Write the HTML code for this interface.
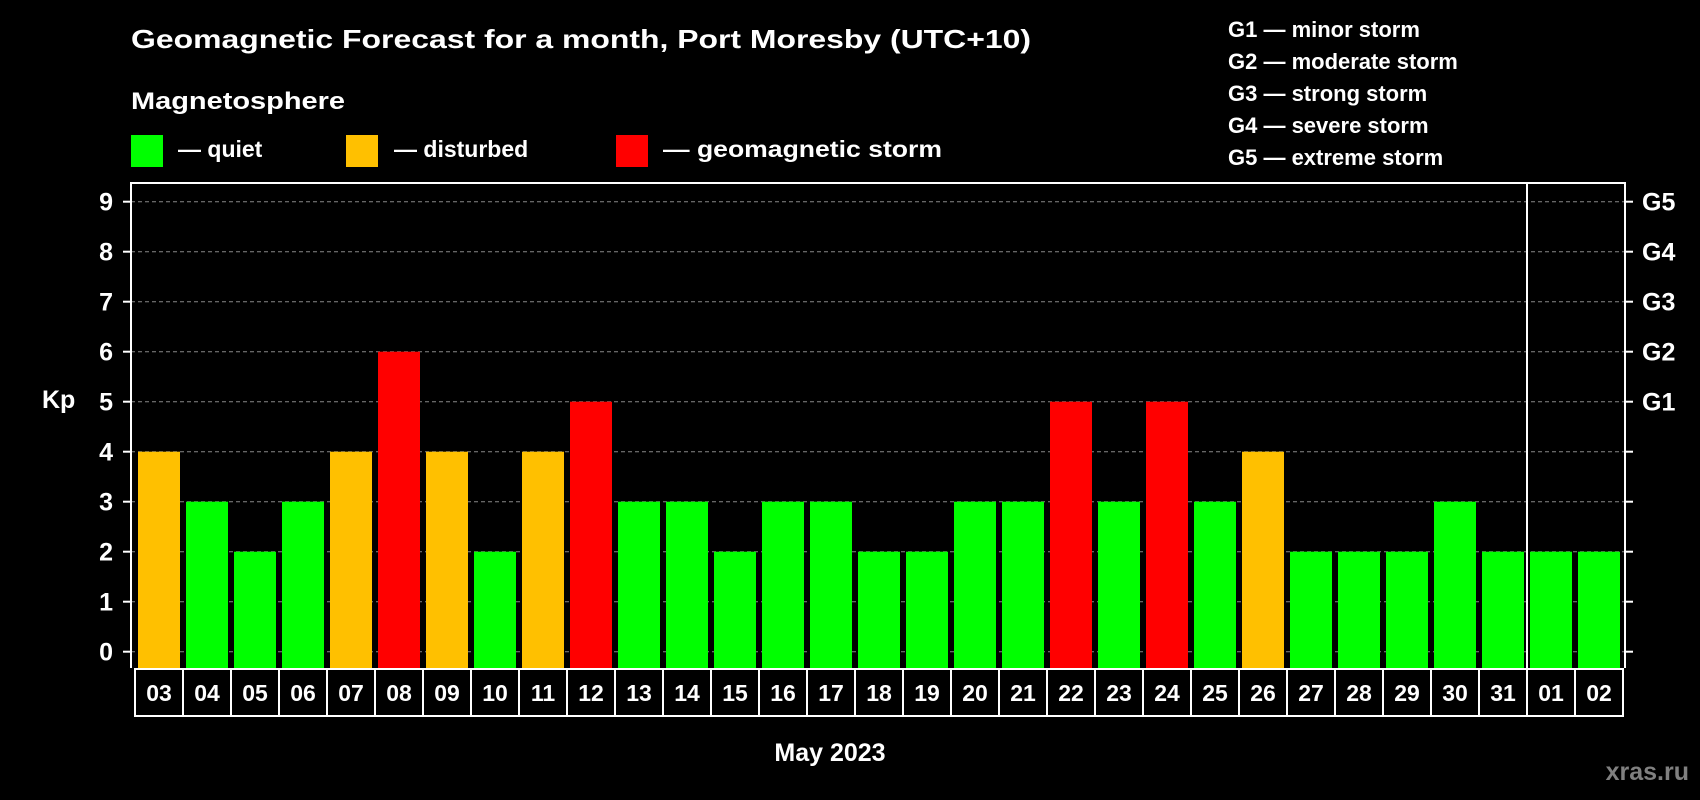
<!DOCTYPE html>
<html><head><meta charset="utf-8"><style>
html,body{margin:0;padding:0;background:#000;}
svg{display:block;font-family:"Liberation Sans",Arial,sans-serif;font-weight:bold;}
</style></head><body>
<svg id="chart" width="1700" height="800" viewBox="0 0 1700 800" xmlns="http://www.w3.org/2000/svg">
<rect width="1700" height="800" fill="#000"/>
<text x="131" y="48" fill="#fff" font-size="26" textLength="900" lengthAdjust="spacingAndGlyphs">Geomagnetic Forecast for a month, Port Moresby (UTC+10)</text>
<text x="131" y="109" fill="#fff" font-size="24" textLength="214" lengthAdjust="spacingAndGlyphs">Magnetosphere</text>
<g><rect x="131" y="135" width="32" height="32" fill="#00ff00"/><text x="178" y="157" fill="#fff" font-size="23">— quiet</text></g>
<g><rect x="346" y="135" width="32" height="32" fill="#ffc000"/><text x="394" y="157" fill="#fff" font-size="23">— disturbed</text></g>
<g><rect x="616" y="135" width="32" height="32" fill="#ff0000"/><text x="663" y="157" fill="#fff" font-size="23" textLength="279" lengthAdjust="spacingAndGlyphs">— geomagnetic storm</text></g>
<g fill="#fff" font-size="22">
<text x="1228" y="37">G1 — minor storm</text>
<text x="1228" y="69">G2 — moderate storm</text>
<text x="1228" y="101">G3 — strong storm</text>
<text x="1228" y="133">G4 — severe storm</text>
<text x="1228" y="165">G5 — extreme storm</text>
</g>
<g id="grid"></g><g id="bars"></g><g id="axes"></g>
<text x="42" y="408" fill="#fff" font-size="25">Kp</text>
<text x="830" y="761" fill="#fff" font-size="25" text-anchor="middle">May 2023</text>
<text x="1689" y="780" fill="#808080" font-size="25" text-anchor="end">xras.ru</text>
</svg>
<script>
const days = ["03","04","05","06","07","08","09","10","11","12","13","14","15","16","17","18","19","20","21","22","23","24","25","26","27","28","29","30","31","01","02"];
const kp = [4,3,2,3,4,6,4,2,4,5,3,3,2,3,3,2,2,3,3,5,3,5,3,4,2,2,2,3,2,2,2];
const yTicks = [0,1,2,3,4,5,6,7,8,9];
const gLabels = ["","","","","","G1","G2","G3","G4","G5"];
const NS="http://www.w3.org/2000/svg";
const L=131,R=1625,T=183,B=668,pitch=48,x0=135;
function y(k){return 651.7-50*k;}
function xb(i){return x0+i*pitch;}
function mk(t,a,p){const e=document.createElementNS(NS,t);for(const k in a)e.setAttribute(k,a[k]);p.appendChild(e);return e;}
const grid=document.getElementById('grid'),bars=document.getElementById('bars'),axes=document.getElementById('axes');
yTicks.forEach((k,i)=>{
  const g=mk('line',{x1:L,x2:R,y1:y(k),y2:y(k),stroke:'#888','stroke-width':1,'stroke-dasharray':'4,3'},grid);
  
  
  mk('line',{x1:L-8,x2:L,y1:y(k),y2:y(k),stroke:'#fff','stroke-width':2},axes);
  mk('line',{x1:R,x2:R+8,y1:y(k),y2:y(k),stroke:'#fff','stroke-width':2},axes);
  const t=mk('text',{x:113,y:y(k)+9,fill:'#fff','font-size':25,'text-anchor':'end'},axes);
  t.textContent=k;
  
  
  if(gLabels[i]){
    const g2=mk('text',{x:1642,y:y(k)+9,fill:'#fff','font-size':25},axes);
    g2.textContent=gLabels[i];
    
    
  }
});
kp.forEach((v,i)=>{
  const c=v>=5?'#ff0000':(v>=4?'#ffc000':'#00ff00');
  const r=mk('rect',{x:xb(i)+3,y:y(v),width:42,height:B-y(v),fill:c},bars);
  
  
  const bx=mk('rect',{x:xb(i),y:669,width:pitch,height:47,fill:'none',stroke:'#fff','stroke-width':2},axes);
  
  
  const t=mk('text',{x:xb(i)+pitch/2,y:701,fill:'#fff','font-size':23,'text-anchor':'middle'},axes);
  t.textContent=days[i];
  
  
});
const fr=mk('path',{d:`M${L} ${B} V${T} H${R} V${B}`,fill:'none',stroke:'#fff','stroke-width':2},axes);


const sep=mk('line',{x1:xb(29),x2:xb(29),y1:T,y2:716,stroke:'#fff','stroke-width':2},axes);


</script>
</body></html>
